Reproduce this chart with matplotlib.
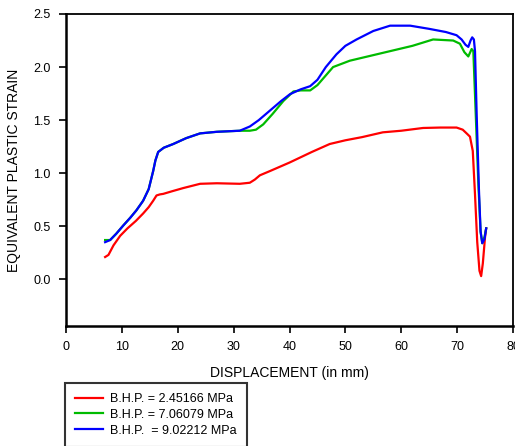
import matplotlib
matplotlib.use("Agg")
import matplotlib.pyplot as plt

plt.rcParams['font.family'] = ['Liberation Sans', 'DejaVu Sans']

# Data
red_x = [7.0, 7.6, 8.5, 9.7, 11.0, 12.5, 13.8, 14.8, 15.6, 16.2, 16.8, 17.4, 19.0, 21.0, 24.0, 27.0, 31.1, 32.9, 33.8, 34.7, 36.5, 40.0, 44.0, 47.2, 50.0, 53.0, 56.7, 60.0, 63.9, 67.0, 69.9, 71.0, 71.8, 72.3, 72.8, 73.2, 73.6, 74.0, 74.3, 74.6, 75.0, 75.2]
red_y = [0.21, 0.23, 0.32, 0.41, 0.48, 0.55, 0.62, 0.68, 0.74, 0.79, 0.80, 0.805, 0.83, 0.86, 0.90, 0.905, 0.90, 0.91, 0.94, 0.98, 1.02, 1.10, 1.20, 1.275, 1.31, 1.34, 1.385, 1.40, 1.426, 1.43, 1.43, 1.41, 1.37, 1.344, 1.21, 0.80, 0.35, 0.08, 0.03, 0.15, 0.40, 0.48]

green_x = [7.0, 7.9, 9.0, 10.3, 11.5, 12.6, 13.8, 14.8, 15.6, 16.0, 16.5, 17.5, 19.2, 21.5, 24.0, 27.0, 31.1, 32.9, 34.0, 35.3, 37.0, 38.9, 40.7, 42.0, 43.7, 45.0, 47.8, 50.8, 54.0, 58.0, 62.0, 65.7, 69.3, 70.5, 71.3, 72.0, 72.6, 72.9, 73.3, 73.8, 74.2, 74.5, 74.9, 75.2]
green_y = [0.37, 0.37, 0.43, 0.51, 0.58, 0.65, 0.74, 0.85, 1.02, 1.12, 1.20, 1.24, 1.275, 1.33, 1.375, 1.39, 1.40, 1.40, 1.41, 1.46, 1.56, 1.68, 1.77, 1.78, 1.78, 1.83, 2.00, 2.06, 2.10, 2.15, 2.20, 2.26, 2.25, 2.22, 2.14, 2.10, 2.17, 2.15, 1.60, 0.90, 0.45, 0.34, 0.40, 0.48]

blue_x = [7.0, 7.9, 9.0, 10.3, 11.5, 12.6, 13.8, 14.8, 15.6, 16.0, 16.5, 17.5, 19.2, 21.5, 24.0, 27.0, 31.1, 32.9, 34.5, 36.5, 38.5, 40.1, 42.0, 43.7, 45.0, 46.5, 48.4, 50.0, 52.0, 55.0, 58.0, 61.6, 65.0, 68.0, 69.9, 70.8, 71.5, 72.0, 72.4, 72.7, 73.0, 73.2, 73.5, 73.9, 74.2, 74.5, 74.9, 75.2]
blue_y = [0.35, 0.37, 0.43, 0.51, 0.58, 0.65, 0.74, 0.85, 1.02, 1.12, 1.20, 1.24, 1.275, 1.33, 1.375, 1.39, 1.40, 1.44, 1.50, 1.59, 1.68, 1.745, 1.79, 1.82, 1.88, 2.00, 2.12, 2.20, 2.26, 2.34, 2.39, 2.39, 2.36, 2.33, 2.30, 2.26, 2.21, 2.19, 2.25, 2.28, 2.26, 2.15, 1.55, 0.85, 0.45, 0.34, 0.38, 0.48]

labels = ['B.H.P. = 2.45166 MPa', 'B.H.P. = 7.06079 MPa', 'B.H.P.  = 9.02212 MPa']
colors = ['#ff0000', '#00bb00', '#0000ff']

x_ticks = [0, 10, 20, 30, 40, 50, 60, 70, 80]
y_ticks = [0.0, 0.5, 1.0, 1.5, 2.0, 2.5]

fig = plt.figure(figsize=(5.15, 4.46), dpi=100)
ax = fig.add_axes([66/515, 1-326/446, (513-66)/515, (326-14)/446])

series = [(red_x, red_y), (green_x, green_y), (blue_x, blue_y)]
handles = []
for (xs, ys), c, lab in zip(series, colors, labels):
    h, = ax.plot(xs, ys, color=c, lw=1.6, label=lab, solid_joinstyle='round')
    handles.append(h)

ax.set_xlim(0, 80)
ax.set_ylim(-0.44, 2.5)
ax.set_xticks(x_ticks)
ax.set_xticklabels([str(v) for v in x_ticks])
ax.set_yticks(y_ticks)
ax.set_yticklabels([f"{v:.1f}" for v in y_ticks])
ax.tick_params(direction='out', length=5, width=1.2, labelsize=9, pad=6, colors='black')
for s in ['left', 'bottom']:
    ax.spines[s].set_linewidth(1.8)
for s in ['top', 'right']:
    ax.spines[s].set_linewidth(1.3)

ax.set_xlabel('DISPLACEMENT (in mm)', fontsize=10, labelpad=9)
ax.set_ylabel('EQUIVALENT PLASTIC STRAIN', fontsize=10, labelpad=9)

leg = fig.legend(handles=handles, labels=labels, loc='upper left',
                 bbox_to_anchor=(65/515, 1-383/446), fontsize=9,
                 frameon=True, fancybox=False, borderpad=0.8,
                 labelspacing=0.3, handlelength=2.2, handletextpad=0.6,
                 borderaxespad=0)
leg.get_frame().set_edgecolor('black')
leg.get_frame().set_linewidth(1.5)

fig.savefig('out.png', dpi=100)
